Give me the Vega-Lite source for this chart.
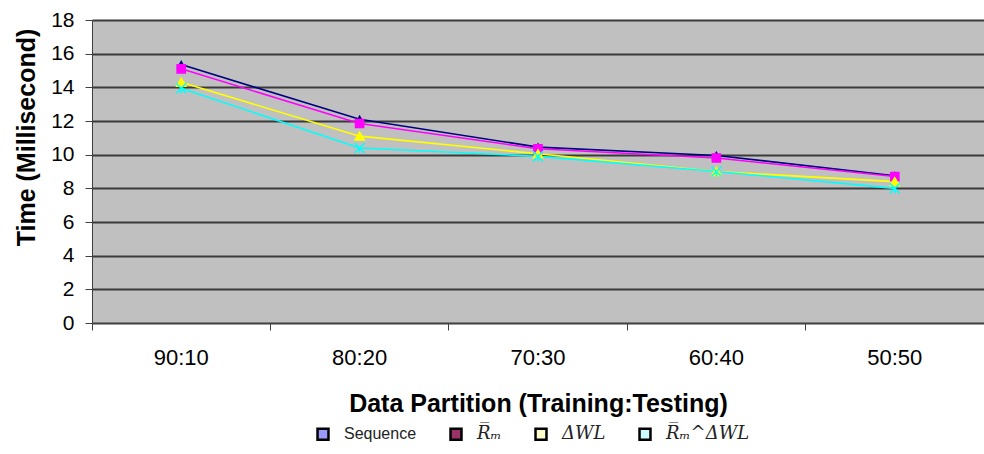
{
  "$schema": "https://vega.github.io/schema/vega-lite/v6.json",
  "autosize": "none",
  "width": 892,
  "height": 303,
  "padding": {"left": 92, "top": 20, "right": 0, "bottom": 131},
  "background": "white",
  "config": {
    "view": {"fill": "#C0C0C0", "stroke": null},
    "font": "Liberation Sans"
  },
  "data": {
    "values": [
      {"partition": "90:10", "series": "Sequence", "time": 15.35},
      {"partition": "80:20", "series": "Sequence", "time": 12.1},
      {"partition": "70:30", "series": "Sequence", "time": 10.45},
      {"partition": "60:40", "series": "Sequence", "time": 9.95},
      {"partition": "50:50", "series": "Sequence", "time": 8.75},
      {"partition": "90:10", "series": "R̅ₘ", "time": 15.1},
      {"partition": "80:20", "series": "R̅ₘ", "time": 11.85},
      {"partition": "70:30", "series": "R̅ₘ", "time": 10.35},
      {"partition": "60:40", "series": "R̅ₘ", "time": 9.8},
      {"partition": "50:50", "series": "R̅ₘ", "time": 8.7},
      {"partition": "90:10", "series": "ΔWL", "time": 14.3},
      {"partition": "80:20", "series": "ΔWL", "time": 11.1},
      {"partition": "70:30", "series": "ΔWL", "time": 10.05},
      {"partition": "60:40", "series": "ΔWL", "time": 9.0},
      {"partition": "50:50", "series": "ΔWL", "time": 8.4},
      {"partition": "90:10", "series": "R̅ₘ^ΔWL", "time": 13.95},
      {"partition": "80:20", "series": "R̅ₘ^ΔWL", "time": 10.4},
      {"partition": "70:30", "series": "R̅ₘ^ΔWL", "time": 9.9},
      {"partition": "60:40", "series": "R̅ₘ^ΔWL", "time": 9.0},
      {"partition": "50:50", "series": "R̅ₘ^ΔWL", "time": 8.0}
    ]
  },
  "encoding": {
    "x": {
      "field": "partition",
      "type": "nominal",
      "sort": ["90:10", "80:20", "70:30", "60:40", "50:50"],
      "scale": {"type": "band", "paddingInner": 0, "paddingOuter": 0},
      "axis": {
        "title": "Data Partition (Training:Testing)",
        "titleFont": "Liberation Sans",
        "titleFontSize": 25,
        "titleFontWeight": "bold",
        "titleColor": "black",
        "titlePadding": 23,
        "labelAngle": 0,
        "labelFont": "Liberation Sans",
        "labelFontSize": 22,
        "labelColor": "black",
        "labelPadding": 17,
        "bandPosition": 0,
        "tickSize": 7,
        "tickColor": "#404040",
        "domainColor": "#404040",
        "grid": false
      }
    },
    "y": {
      "field": "time",
      "type": "quantitative",
      "scale": {"domain": [0, 18], "nice": false},
      "axis": {
        "title": "Time (Millisecond)",
        "titleFont": "Liberation Sans",
        "titleFontSize": 25,
        "titleFontWeight": "bold",
        "titleColor": "black",
        "titleY": 117,
        "titlePadding": 11,
        "values": [0, 2, 4, 6, 8, 10, 12, 14, 16, 18],
        "labelFont": "Liberation Sans",
        "labelFontSize": 21,
        "labelColor": "black",
        "labelPadding": 11,
        "tickSize": 7,
        "tickColor": "#404040",
        "domainColor": "#404040",
        "grid": true,
        "gridColor": "#3a3a3a",
        "gridWidth": 2
      }
    }
  },
  "layer": [
    {
      "mark": {"type": "line", "strokeWidth": 1.6},
      "encoding": {
        "stroke": {
          "field": "series",
          "type": "nominal",
          "scale": {
            "domain": ["Sequence", "R̅ₘ", "ΔWL", "R̅ₘ^ΔWL"],
            "range": ["#000080", "#FF00FF", "#FFFF00", "#00FFFF"]
          },
          "legend": null
        },
        "order": {"field": "series"}
      }
    },
    {
      "mark": {"type": "point", "filled": true, "opacity": 1, "strokeWidth": 1.5},
      "encoding": {
        "fill": {
          "field": "series",
          "type": "nominal",
          "scale": {
            "domain": ["Sequence", "R̅ₘ", "ΔWL", "R̅ₘ^ΔWL"],
            "range": ["#000080", "#FF00FF", "#FFFF00", "#00FFFF"]
          },
          "legend": null
        },
        "stroke": {"field": "series", "type": "nominal", "legend": null},
        "shape": {
          "field": "series",
          "type": "nominal",
          "scale": {
            "domain": ["Sequence", "R̅ₘ", "ΔWL", "R̅ₘ^ΔWL"],
            "range": ["triangle-up", "square", "triangle-up", "M-1,-1L1,1M-1,1L1,-1M0,0L0,1"]
          },
          "legend": null
        },
        "size": {
          "field": "series",
          "type": "nominal",
          "scale": {
            "domain": ["Sequence", "R̅ₘ", "ΔWL", "R̅ₘ^ΔWL"],
            "range": [50, 100, 80, 40]
          },
          "legend": null
        }
      }
    },
    {
      "mark": {"type": "point", "filled": true, "opacity": 0},
      "encoding": {
        "fill": {
          "field": "series",
          "type": "nominal",
          "scale": {
            "domain": ["Sequence", "R̅ₘ", "ΔWL", "R̅ₘ^ΔWL"],
            "range": ["#9999FF", "#993366", "#FFFFCC", "#CCFFFF"]
          },
          "legend": {
            "title": null,
            "orient": "none",
            "legendX": 222,
            "legendY": 405,
            "direction": "horizontal",
            "symbolType": "square",
            "symbolSize": 120,
            "symbolOpacity": 1,
            "symbolStrokeColor": "black",
            "symbolStrokeWidth": 2.5,
            "labelFontSize": 17,
            "labelColor": "#222",
            "labelOffset": 12,
            "columnPadding": 28,
            "encode": {
              "labels": {
                "update": {
                  "font": {"signal": "datum.label == 'Sequence' ? 'Liberation Sans' : 'DejaVu Serif'"},
                  "fontStyle": {"signal": "datum.label == 'Sequence' ? 'normal' : 'italic'"},
                  "fontSize": {"signal": "datum.label == 'Sequence' ? 16 : 18"}
                }
              }
            }
          }
        }
      }
    }
  ],
  "resolve": {"scale": {"fill": "independent"}}
}
